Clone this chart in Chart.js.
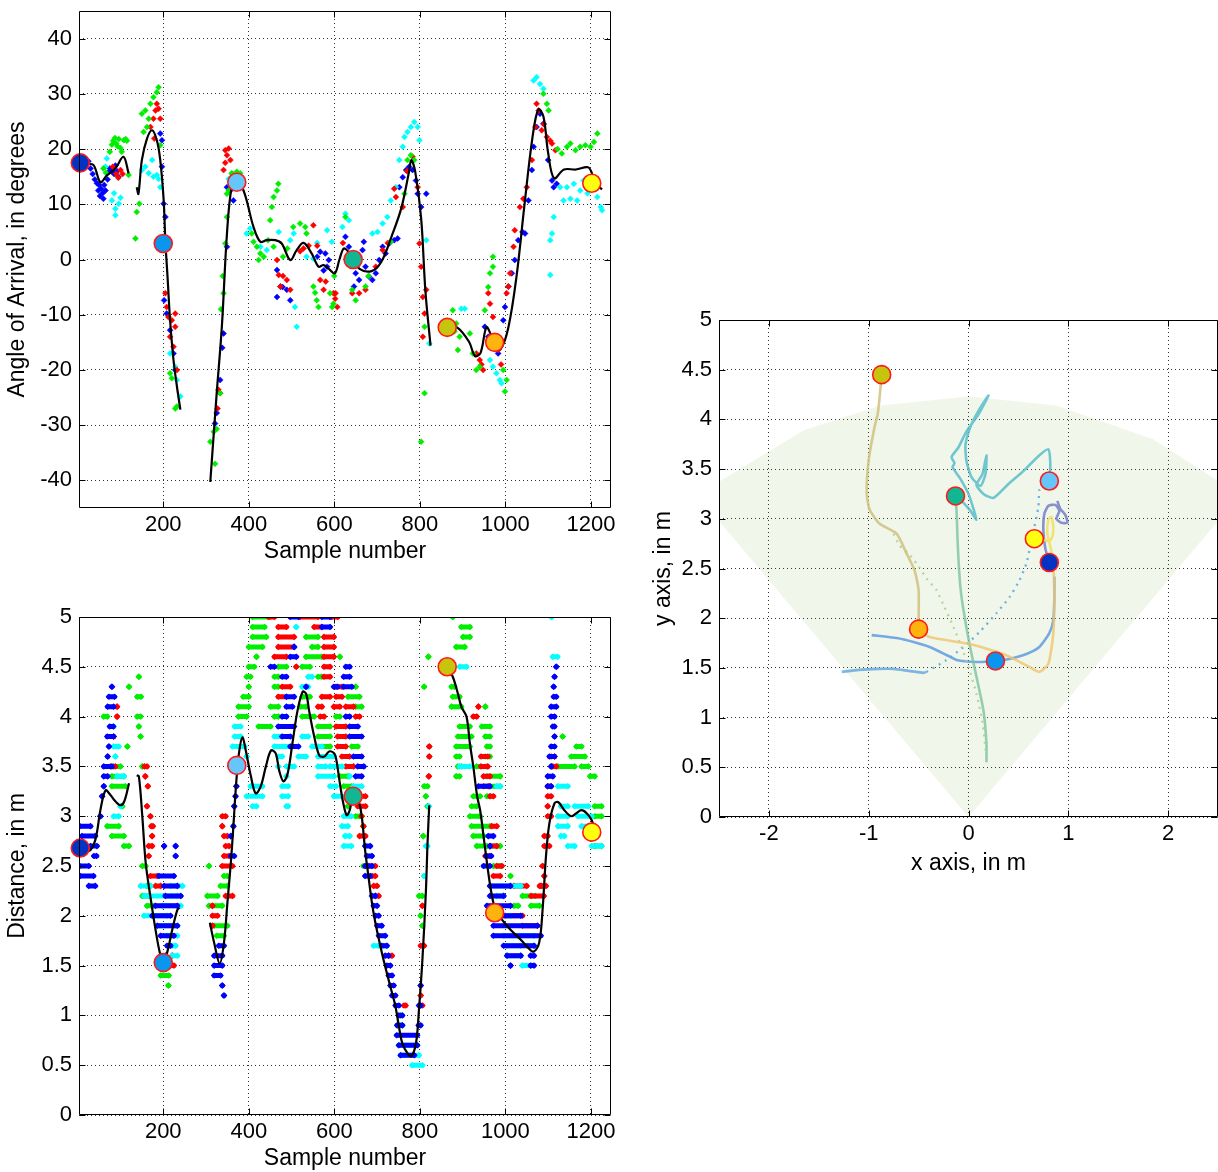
<!DOCTYPE html>
<html>
<head>
<meta charset="utf-8">
<script src="https://cdn.jsdelivr.net/npm/chart.js@4.4.1/dist/chart.umd.min.js"></script>
<style>
  html, body { margin: 0; padding: 0; background: #fff; overflow: hidden; }
  body { width: 1218px; height: 1172px; position: relative; }
  canvas { position: absolute; }
</style>
</head>
<body>
<canvas id="ch-aoa" width="622" height="569" style="left:0;top:0"></canvas>
<canvas id="ch-dist" width="622" height="572" style="left:0;top:600px"></canvas>
<canvas id="ch-xy" width="578" height="581" style="left:640px;top:300px"></canvas>
<script>
// ---- ticks ----
const sampleTicks = [200, 400, 600, 800, 1000, 1200];
const aoaTicks = [-40, -30, -20, -10, 0, 10, 20, 30, 40];
const distTicks = [0, 0.5, 1, 1.5, 2, 2.5, 3, 3.5, 4, 4.5, 5];
const xyTicksX = [-2, -1, 0, 1, 2];

// ---- key points (big circles) ----
const markerColors = ['#0433c4', '#0a95ee', '#66c6fb', '#11b792', '#c6c40c', '#ffb30f', '#ffff10'];
const markerSample = [6, 200, 372, 644, 864, 975, 1202];
const markerAoa = [17.5, 2.9, 14.0, 0.0, -12.3, -15.0, 13.8];
const markerDist = [2.68, 1.53, 3.51, 3.2, 4.5, 2.03, 2.84];
const markerX = [0.81, 0.27, 0.81, -0.13, -0.87, -0.50, 0.66];
const markerY = [2.56, 1.57, 3.38, 3.23, 4.45, 1.89, 2.80];

// ---- angle of arrival, raw estimates per receiver ----
const aoaRed = [[82,16.8],[90,15.5],[95,14.8],[100,16.2],[105,15.5],
  [170,24],[177,25.5],[179,21.9],[182,27],[185,28.2],[189,27.3],[193,25.5],[205,-6.1],[208,-8.6],[212,-10.4],[216,-14],[220,-11],[224,-15.8],[228,-12.2],[228,-9.8],[232,-20],
  [327,-27],[329,-23.6],[333,-24.2],[341,16.2],[345,19.8],[345,17.5],[349,18.9],[353,20.1],[357,18],[362,15.5],
  [466,-0.1],[470,-2.8],[474,-4.9],[480,-3],[489,-3.7],[497,-5.5],[520,1.5],[528,2],[540,2.5],[551,6.2],[560,2.5],[567,-3.7],[575,-5.5],[580,-4],[598,-6.1],[602,-7.1],[603,-6.1],[607,-8.6],[620,3],[642,-6.1],[658,-6.1],[673,-5.5],[697,-1.3],[713,1.7],[725,3],[740,12.8],[744,11.3],[760,9.5],[770,16],[783,18.6],[795,13.1],[799,2.9],[803,-1.3],[807,-6.8],[815,-5.5],[811,-9.8],[807,-14],
  [932,-17],[940,-18.2],[944,-19],[948,-20],[960,-6.1],[964,-8],[971,-10.4],[983,-16.4],[990,-19],[1003,-6.1],[1007,-4.9],[1011,-2.5],[1019,2.3],[1022,5.3],[1034,9.5],[1042,11],[1050,13.1],[1062,18],[1070,24],[1073,28.2],[1078,27],[1085,23.4],[1090,24.5],[1097,22.2],[1105,21.5],[1109,21],[1117,19.8]];
const aoaGreen = [[60,16.5],[66,15.7],[75,19.5],[80,20.8],[83,21.5],[87,22],[90,21],[93,20.5],[96,21.8],[100,20.2],[103,19.5],[108,21.6],[112,21.8],[115,21.5],[119,15.3],
  [135,3.8],[138,8.6],[144,10.1],[150,26.4],[154,23.1],[158,27],[162,24],[166,25.5],[170,28.2],[177,29.4],[185,30.3],[189,31.2],[193,20.7],[216,-20.6],[220,-21.5],[228,-27],[232,-26.6],
  [310,-33],[318,-31.2],[321,-37],[325,-30.7],[333,-24.2],[335,-9],[339,-3],[341,-6.1],[345,2.9],[349,7.7],[349,11.9],[353,12.5],[360,15.6],[372,15.9],[380,15.6],
  [407,4.7],[411,3.2],[419,2.3],[423,-0.1],[427,1.1],[435,0.5],[445,3.5],[450,7.1],[454,9.5],[458,11.3],[458,2.3],[466,12.5],[469,13.7],[480,0.5],[490,2],[504,5.9],[520,6.5],[532,5.9],[535,4.7],[551,-4.9],[555,-6],[559,-7.4],[563,-8.6],[590,-6.1],[595,-8.6],[598,-8],[600,-3],[626,7.7],[642,-5.5],[650,-7.4],[673,-4.9],[680,-3],[732,3.2],[764,11.9],[771,18],[779,18.9],[787,18],[811,-12.2],[811,-24.2],[803,-33],
  [877,-9.2],[881,-13],[885,-11.6],[889,-16.4],[893,-14],[917,-13.4],[924,-17],[932,-20],[940,-19.4],[952,-9.2],[960,-5],[964,-2.5],[971,0.5],[971,-1.3],[995,-20],[999,-23.9],[1003,-21.8],[1089,30],[1097,28.2],[1101,27],[1122,20],[1132,19.2],[1144,20.4],[1152,21],[1164,19.8],[1175,20.4],[1187,20.7],[1199,20.4],[1207,21.3],[1215,22.8]];
const aoaBlue = [[15,17.5],[25,17.8],[30,16.5],[35,15.5],[40,14.5],[45,13.8],[48,12.5],[50,13.5],[52,11.5],[55,12.8],[58,12],[60,11],[62,13.5],[65,12.5],[70,14.5],[72,15.8],[75,16.5],[80,16],[85,15.5],[88,17],[92,16],[95,15],
  [193,22.8],[197,21.6],[197,16.8],[201,10.1],[205,7.7],[202,-7.4],[208,-9.8],[216,-12.8],[224,-17],[228,-20],
  [321,-29.7],[325,-27.8],[333,-21.8],[338,-16],[341,-13.4],[349,2.3],[349,13.1],[357,12.5],[357,14.3],[364,10.7],
  [466,-1.9],[466,-6.8],[474,-4.9],[479,-5],[489,-5.5],[497,-7.4],[560,0.5],[567,1.4],[575,-2],[579,1.1],[583,-1.3],[587,-0.1],[626,4.1],[634,2.3],[642,-0.1],[646,-4.9],[650,-2.5],[658,-3.7],[666,1.7],[669,3.2],[673,-1.3],[681,-3.1],[689,-3.7],[697,-2.5],[705,-0.1],[713,2.3],[720,1.1],[728,2.9],[740,3.5],[748,3.8],[752,13.1],[760,14.9],[768,16.2],[775,16.8],[783,16.2],[791,14.3],[795,11.9],[803,9.5],[815,11.9],
  [952,-12.2],[960,-14],[971,-15.8],[983,-17],[995,-11],[999,-8.6],[1007,-4.9],[1015,-2.5],[1022,-0.1],[1030,3.5],[1040,5],[1046,4.7],[1054,10.7],[1062,16.2],[1066,20.4],[1073,24],[1081,26.4],[1089,24.6],[1100,18],[1109,14.3],[1113,13.1],[1120,13.7]];
const aoaCyan = [[65,16.8],[68,18.3],[80,10.7],[85,12],[88,9.2],[88,8],[96,10.1],[100,11.2],
  [150,16.2],[158,16.8],[166,15.6],[174,18],[177,15],[185,15.3],[189,14.6],[193,13.1],[216,-17],[228,-19.4],[232,-21.8],[240,-24.8],
  [353,14.6],[364,13.7],
  [395,4.7],[403,5.6],[427,2.3],[442,1.7],[470,5],[497,3.5],[505,4.7],[508,-8.6],[512,-12.2],[535,0.5],[551,0.2],[560,3],[583,5.3],[594,3.2],[619,5.9],[626,8.3],[634,7.1],[689,4.7],[701,5],[713,6.5],[724,7.7],[732,10.7],[744,13.1],[752,18],[760,20.4],[764,22.2],[771,23.1],[779,24],[787,24.9],[795,24],[799,21.6],[815,3.5],[822,-15.2],
  [897,-8.9],[905,-8.9],[964,-18.2],[971,-19.4],[979,-20.6],[987,-21.8],[991,-22.4],[1066,32.4],[1073,33],[1081,31.8],[1089,30.9],[1105,3.5],[1109,4.7],[1113,7.7],[1105,-2.8],[1128,13.1],[1136,10.7],[1144,13.1],[1152,11],[1160,13.7],[1168,10.7],[1175,12.5],[1183,14.3],[1192,12],[1215,11.3],[1223,9.5],[1226,8.9]];

// smoothed angle, null = gap
const aoaSmooth = [[4,17.5],[20,17.3],[37,17.1],[53,14.0],[68,15.2],[88,16.5],[107,18.6],[119,15.6], null,
  [138,13.1],[142,11.9],[150,18],[162,21.9],[174,23.4],[185,21.6],[193,18],[201,10.7],[205,3.2],[210,-3.1],[216,-11],[224,-18.2],[232,-23],[240,-27.2], null,
  [310,-40.3],[325,-24.2],[337,-12.2],[349,4.7],[360,13.1],[371,14.0],[384,13.1],[395,10.7],[411,5.9],[427,3.2],[442,3.5],[462,3.5],[477,2.9],[497,-0.1],[512,1.7],[528,3.0],[547,1.1],[563,-1.3],[575,-1.0],[586,-1.6],[601,-2.5],[612,0],[622,2.0],[632,1.5],[645,0.1],[659,-1.7],[687,-2.1],[710,-0.4],[734,4.2],[757,9.4],[775,16],[780,18],[789,16],[803,7.5],[813,-5.7],[825,-15.6], null,
  [864,-12.3],[887,-12.3],[915,-14.9],[929,-17.5],[942,-16.9],[956,-12.3],[970,-14.2],[980,-15],[989,-16.2],[1007,-12.3],[1026,-3.1],[1045,10.1],[1063,21.9],[1077,27.2],[1089,25.9],[1100,19.3],[1114,14.7],[1137,16.3],[1165,16.3],[1193,16.7],[1202,15.7],[1207,14],[1226,12.7]];

// ---- distance, raw estimates as rows: [from sample, to sample, metres] ----
const distBlue = [[5,30,2.9],[10,41,2.8],[30,45,2.7],[38,44,2.6],[5,26,2.5],[6,37,2.4],[26,41,2.3],[53,53,3.0],[57,57,3.2],[61,61,3.3],[61,70,3.4],[61,80,3.5],[70,70,3.6],[73,73,3.7],[69,84,3.8],[75,83,3.9],[70,84,4.1],[73,86,4.2],[80,80,4.3],
  [202,202,2.7],[229,229,2.7],[229,229,2.6],[190,225,2.4],[202,233,2.3],[205,241,2.2],[182,233,2.1],[174,217,2.0],[186,233,1.9],[194,225,1.8],[209,217,1.7],[194,205,1.6],
  [371,371,3.3],[369,369,3.2],[366,366,3.1],[364,364,2.9],[358,358,2.8],[358,366,2.6],[330,342,1.7],[319,338,1.6],[319,338,1.5],[319,334,1.4],[338,338,1.3],[342,342,1.2],
  [497,516,5.0],[571,590,5.0],[571,590,4.9],[506,506,4.7],[497,511,4.6],[451,460,4.5],[627,636,4.5],[478,488,4.4],[622,636,4.4],[534,534,4.3],[599,608,4.3],[622,641,4.3],[488,506,4.2],[488,502,4.1],[478,488,4.0],[627,636,4.0],[469,506,3.9],[636,655,3.9],[478,497,3.8],[636,664,3.8],[497,516,3.7],[645,664,3.6],[655,669,3.5],[650,664,3.4],
  [672,684,2.7],[676,688,2.6],[672,688,2.5],[672,684,2.4],[688,696,2.2],[692,700,2.1],[696,704,2.0],[700,711,1.9],[704,719,1.8],[711,723,1.7],[719,727,1.6],[723,731,1.5],[727,735,1.4],[731,739,1.3],[735,743,1.2],[743,751,1.1],[751,759,1.0],[747,759,0.9],[746,794,0.8],[751,794,0.7],[755,787,0.6],[798,802,1.1],[797,802,0.9],[802,802,1.3],
  [937,964,3.3],[960,972,2.8],[964,964,2.7],[955,967,2.6],[949,964,2.5],[964,1012,2.3],[964,996,2.2],[957,1012,2.1],[964,1036,2.0],[972,1075,1.9],[972,1083,1.8],[996,1067,1.7],[1004,1036,1.6],[1059,1067,1.6],[1012,1012,1.5],[1059,1067,1.5],
  [1119,1119,4.5],[1115,1115,4.4],[1113,1113,4.3],[1113,1119,4.2],[1107,1119,4.1],[1107,1115,4.0],[1111,1115,3.9],[1115,1115,3.8],[1107,1115,3.7],[1103,1115,3.6],[1107,1107,3.5],[1099,1111,3.4],[1099,1107,3.3]];
const distRed = [[92,92,4.1],[92,92,4.0],[84,84,3.8],[77,88,3.5],[156,162,3.5],[158,158,3.4],[164,164,3.3],[162,162,3.1],[170,170,3.0],[172,176,2.9],[174,174,2.8],[166,174,2.7],[166,166,2.6],[170,186,2.4],[182,194,2.3],[217,225,1.5],[221,221,1.6],
  [338,346,3.0],[338,338,2.9],[342,350,2.8],[346,354,2.7],[342,354,2.6],[338,362,2.5],[346,362,2.2],[315,315,2.1],[315,327,2.0],[315,315,1.9],
  [446,460,5.0],[520,562,5.0],[594,608,5.0],[469,488,4.9],[553,571,4.9],[469,506,4.8],[576,599,4.8],[469,506,4.7],[576,599,4.7],[460,488,4.6],[576,599,4.6],[511,511,4.5],[576,590,4.5],[576,590,4.4],[478,497,4.3],[604,618,4.3],[469,488,4.2],[571,590,4.2],[604,618,4.2],[562,571,4.1],[599,613,4.1],[627,645,4.1],[567,576,4.0],[650,659,4.0],[604,627,3.9],[608,627,3.8],[608,627,3.7],[618,636,3.6],[627,645,3.5],[655,673,3.2],[655,673,3.1],[659,673,2.8],
  [664,664,3.0],[668,668,2.9],[680,696,2.5],[688,696,2.4],[692,700,2.3],[696,704,2.2],[727,735,1.6],[763,767,1.1],
  [822,822,3.7],[822,822,3.6],[821,821,3.4],[806,806,2.1],[802,810,1.7],[802,802,1.2],[802,806,1.1],
  [937,937,4.1],[925,933,4.0],[943,959,3.6],[943,959,3.5],[949,964,3.4],[949,960,3.3],[964,972,3.2],[968,980,2.9],[964,980,2.7],[953,964,2.6],[980,992,2.5],[972,988,2.4],[1020,1050,2.3],[1060,1090,2.2],[1000,1040,2.0],[1040,1075,1.9],[1080,1085,2.3],
  [1107,1115,3.6],[1111,1119,3.5],[1099,1107,3.3],[1099,1107,3.2],[1099,1099,3.1],[1099,1107,3.0],[1091,1099,2.8],[1091,1103,2.7],[1087,1087,2.5],[1091,1091,2.4],[1083,1095,2.3]];
const distGreen = [[143,143,4.4],[120,120,4.3],[139,148,4.2],[61,69,4.0],[139,147,4.0],[143,143,3.9],[147,147,3.8],[116,116,3.7],[84,100,3.5],[151,151,3.5],[80,108,3.4],[80,112,3.3],[104,104,3.1],[69,96,2.9],[80,108,2.8],[108,120,2.7],
  [151,159,2.5],[162,170,2.3],[151,166,2.2],[162,178,2.1],[205,215,1.5],[194,213,1.4],[212,212,1.3],
  [307,307,2.5],[342,350,2.4],[334,350,2.3],[303,327,2.2],[307,338,2.1],[319,350,1.9],[325,342,1.8],
  [409,450,5.0],[409,437,4.9],[409,441,4.8],[534,562,4.8],[400,432,4.7],[548,562,4.7],[418,418,4.6],[534,571,4.6],[613,613,4.6],[400,413,4.5],[469,488,4.5],[525,543,4.5],[395,404,4.4],[460,469,4.4],[562,571,4.4],[400,400,4.3],[460,469,4.3],[650,650,4.3],[387,400,4.2],[525,543,4.2],[632,659,4.2],[376,400,4.1],[451,469,4.1],[520,534,4.1],[650,664,4.1],[376,395,4.0],[460,469,4.0],[525,553,4.0],[604,613,4.0],[423,451,3.9],[562,590,3.9],[562,590,3.8],[562,590,3.7],[641,655,3.7],[613,632,3.4],[622,641,3.3],[627,627,3.2],[632,632,3.1],[650,659,3.0],
  [668,668,2.9],[668,680,2.5],[747,759,0.9],[755,755,1.0],
  [810,818,3.3],[814,814,3.2],[818,818,3.1],[808,808,2.8],[798,806,2.2],[802,802,2.0],[806,806,1.9],[820,820,4.6],[810,810,4.3],
  [877,877,5.0],[897,917,4.9],[901,917,4.8],[885,905,4.7],[874,881,4.3],[877,893,4.2],[874,897,4.1],[953,953,4.1],[893,917,3.9],[945,964,3.9],[889,921,3.8],[953,964,3.8],[885,917,3.7],[957,964,3.7],[885,893,3.6],[953,964,3.6],[889,897,3.5],[933,957,3.5],[885,893,3.4],[957,988,3.4],[964,988,3.3],[925,941,3.2],[957,964,3.2],[921,933,3.1],[917,941,3.0],[921,964,2.9],[925,949,2.8],[933,957,2.7],[964,988,2.7],[972,988,2.5],
  [1012,1012,2.4],[1040,1070,2.2],[1020,1030,2.1],[1060,1080,2.1],
  [1134,1134,3.8],[1166,1178,3.7],[1154,1186,3.6],[1123,1162,3.5],[1178,1194,3.5],[1198,1209,3.4],[1209,1225,3.1],[1209,1225,3.0],[1209,1225,2.7]];
const distCyan = [[84,84,3.9],[84,96,3.7],[88,88,3.6],[92,108,3.4],[100,100,3.1],[84,96,3.0],
  [147,170,2.3],[217,245,2.3],[155,233,2.2],[198,241,2.1],[155,209,2.0],[186,233,1.9],[209,233,1.8],[221,229,1.7],[221,233,1.6],
  [511,511,4.9],[539,548,4.4],[525,539,4.3],[367,381,3.9],[367,381,3.8],[460,478,3.8],[525,539,3.8],[362,390,3.7],[460,497,3.7],[548,571,3.7],[395,395,3.6],[469,478,3.6],[516,534,3.6],[562,599,3.6],[469,469,3.5],[488,506,3.5],[562,580,3.5],[590,618,3.5],[488,488,3.4],[562,599,3.4],[636,636,3.4],[404,432,3.3],[478,492,3.3],[590,604,3.3],[645,664,3.3],[395,432,3.2],[478,492,3.2],[599,618,3.2],[409,418,3.1],[488,492,3.1],[622,640,3.0],[618,632,2.9],[622,640,2.7],
  [625,636,2.8],[692,704,1.7],[715,723,1.7],[751,794,0.7],[755,798,0.6],[782,806,0.5],
  [821,821,3.1],[814,818,2.7],[810,810,2.4],
  [893,909,4.5],[893,917,3.5],[980,988,3.3],[964,1036,2.3],[980,996,2.2],[964,1012,2.0],[996,1067,1.8],[1004,1036,1.7],[1051,1067,1.7],[1004,1036,1.6],[1040,1060,1.5],
  [1108,1108,5.0],[1111,1122,4.6],[1123,1146,3.3],[1130,1146,3.1],[1162,1194,3.1],[1123,1146,3.0],[1170,1202,3.0],[1123,1146,2.9],[1178,1194,2.9],[1130,1138,2.8],[1146,1162,2.7],[1202,1225,2.7]];

const distSmooth = [[6,2.69],[26,2.65],[41,2.76],[53,3.06],[65,3.26],[77,3.21],[88,3.15],[100,3.11],[109,3.15],[120,3.33], null,
  [138,3.41],[143,3.40],[151,3.0],[159,2.53],[170,2.19],[182,1.86],[192,1.63],[200,1.54],[209,1.63],[221,1.86],[233,2.06],[238,2.08], null,
  [309,1.93],[319,1.73],[332,1.52],[342,1.73],[350,2.13],[358,2.53],[364,2.9],[370,3.3],[377,3.63],[385,3.79],[393,3.66],[405,3.4],[416,3.23],[428,3.3],[440,3.5],[452,3.66],[463,3.63],[471,3.46],[481,3.35],[491,3.43],[502,3.73],[514,4.06],[526,4.25],[534,4.23],[541,4.06],[553,3.8],[565,3.61],[577,3.6],[588,3.65],[600,3.63],[605,3.56],[613,3.33],[621,3.13],[629,3.01],[636,3.06],[644,3.21],[656,3.16],[664,3.0],[672,2.66],[680,2.39],[688,2.13],[696,1.93],[708,1.69],[719,1.49],[731,1.29],[743,1.09],[751,0.89],[759,0.72],[771,0.62],[780,0.59],[791,0.72],[798,1.06],[806,1.56],[814,2.23],[818,2.73],[822,3.11], null,
  [864,4.5],[877,4.4],[889,4.23],[897,4.1],[909,4.0],[917,3.73],[925,3.5],[934,3.2],[941,3.06],[949,2.8],[957,2.53],[965,2.29],[972,2.13],[979,2.04],[996,1.94],[1012,1.86],[1036,1.76],[1051,1.69],[1066,1.64],[1079,1.73],[1087,2.06],[1095,2.6],[1103,2.93],[1115,3.13],[1124,3.14],[1138,3.06],[1154,3.0],[1166,3.03],[1178,3.06],[1190,3.03],[1202,2.96],[1208,2.86]];

// ---- room view ----
const fovX = [0, -2.72, -1.65, -0.88, 0, 0.88, 1.85, 2.72, 0];
const fovY = [0, 3.24, 3.89, 4.14, 4.23, 4.14, 3.80, 3.24, 0];
const trajPurple = [[0.81,2.56],[0.77,2.70],[0.75,2.88],[0.76,3.05],[0.80,3.13],[0.87,3.14],[0.91,3.08],[0.88,3.00],[0.93,2.96],[0.99,2.96],[0.97,3.04],[0.92,3.10],[0.89,3.18]];
const trajBlue = [[0.86,2.42],[0.86,2.2],[0.85,1.98],[0.81,1.85],[0.71,1.71],[0.58,1.64],[0.41,1.59],[0.27,1.57],[0.08,1.56],[-0.12,1.58],[-0.22,1.63],[-0.39,1.71],[-0.55,1.76],[-0.72,1.80],[-0.97,1.83]];
const trajLow = [[-1.27,1.46],[-1.1,1.48],[-0.9,1.49],[-0.75,1.49],[-0.6,1.47],[-0.45,1.45],[-0.42,1.46]];
const trajRise = [[-0.42,1.46],[-0.22,1.58],[-0.05,1.71],[0.11,1.86],[0.28,2.05],[0.41,2.21],[0.51,2.38],[0.58,2.55],[0.61,2.68],[0.66,2.92],[0.70,3.12],[0.71,3.29],[0.73,3.32]];
const trajCyan = [[0.81,3.38],[0.82,3.55],[0.80,3.70],[0.70,3.63],[0.55,3.48],[0.40,3.35],[0.25,3.21],[0.15,3.25],[0.08,3.34],[0.14,3.45],[0.18,3.64],[0.17,3.45],[0.12,3.33],[0.03,3.42],[-0.02,3.58],[-0.03,3.75],[0.03,3.95],[0.12,4.12],[0.20,4.24],[0.10,4.05],[-0.02,3.88],[-0.10,3.72],[-0.17,3.62],[-0.14,3.56],[-0.16,3.52],[-0.08,3.4],[0.0,3.25],[0.05,3.1],[0.08,2.99],[0.02,3.08],[-0.06,3.17],[-0.13,3.23]];
const trajGreen = [[-0.13,3.23],[-0.12,3.09],[-0.11,2.8],[-0.10,2.58],[-0.08,2.3],[-0.05,2.08],[0.01,1.74],[0.08,1.41],[0.15,1.07],[0.18,0.74],[0.18,0.55]];
const trajBack = [[0.18,0.6],[0.14,0.95],[0.08,1.24],[0.0,1.51],[-0.07,1.71],[-0.15,1.91],[-0.24,2.11],[-0.32,2.28],[-0.42,2.40],[-0.52,2.55],[-0.60,2.65],[-0.69,2.73],[-0.77,2.89]];
const trajOlive = [[-0.87,4.45],[-0.89,4.23],[-0.91,4.05],[-0.94,3.93],[-1.0,3.59],[-1.02,3.26],[-0.99,3.09],[-0.89,2.95],[-0.72,2.85],[-0.62,2.65],[-0.54,2.48],[-0.50,2.28],[-0.50,1.95],[-0.50,1.89]];
const trajOrange = [[-0.50,1.89],[-0.39,1.81],[0.01,1.74],[0.35,1.64],[0.61,1.51],[0.71,1.46],[0.80,1.54],[0.85,1.85],[0.86,2.25],[0.85,2.52],[0.84,2.62]];
const trajYellow = [[0.84,2.62],[0.82,2.72],[0.79,2.85],[0.80,2.99],[0.83,3.02],[0.85,2.92],[0.84,2.82],[0.81,2.77],[0.75,2.79],[0.66,2.80]];

const FONT = 'Liberation Sans, Arial, Helvetica, sans-serif';
Chart.defaults.font.family = FONT;
Chart.defaults.color = '#000';
Chart.defaults.animation = false;

function pts(arr) {
  let lastX = 0;
  return arr.map(p => {
    if (!p) return { x: lastX, y: null };
    lastX = p[0];
    return { x: p[0], y: p[1] };
  });
}

function runPts(runs) {
  const out = [];
  runs.forEach(r => { out.push({ x: r[0], y: r[2] }, { x: r[1], y: r[2] }, { x: r[1], y: null }); });
  return out;
}

function zipPts(xs, ys) { return xs.map((x, i) => ({ x, y: ys[i] })); }

// matlab-like box with inner tick marks
const boxPlugin = {
  id: 'box',
  afterDatasetsDraw(chart) {
    const { ctx, chartArea: a, scales } = chart;
    const L = Math.round(a.left) + 0.5, R = Math.round(a.right) - 0.5;
    const T = Math.round(a.top) + 0.5, B = Math.round(a.bottom) - 0.5;
    const len = 6;
    ctx.save();
    ctx.strokeStyle = '#000';
    ctx.lineWidth = 1;
    ctx.beginPath();
    ctx.rect(L, T, R - L, B - T);
    scales.x.ticks.forEach(t => {
      const px = Math.round(scales.x.getPixelForValue(t.value)) + 0.5;
      ctx.moveTo(px, B); ctx.lineTo(px, B - len);
      ctx.moveTo(px, T); ctx.lineTo(px, T + len);
    });
    scales.y.ticks.forEach(t => {
      const py = Math.round(scales.y.getPixelForValue(t.value)) + 0.5;
      ctx.moveTo(L, py); ctx.lineTo(L + len, py);
      ctx.moveTo(R, py); ctx.lineTo(R - len, py);
    });
    ctx.stroke();
    ctx.restore();
  }
};

function axis(min, max, tickVals, title, fit, horizontal, titlePad) {
  return {
    type: 'linear', min, max,
    afterBuildTicks: s => { s.ticks = tickVals.map(v => ({ value: v })); },
    afterFit: s => {
      if (horizontal) s.height = fit; else s.width = fit;
      s.paddingTop = 0; s.paddingBottom = 0; s.paddingLeft = 0; s.paddingRight = 0;
    },
    grid: { color: '#333', lineWidth: 1, drawTicks: false },
    border: { display: false, dash: [1, 3] },
    ticks: { font: { size: 22 }, color: '#000', padding: horizontal ? 4 : 7, autoSkip: false, maxRotation: 0, callback: v => String(v) },
    title: { display: true, text: title, font: { size: 23 }, color: '#000', padding: titlePad },
  };
}

function dots(data, color) {
  return { data: pts(data), showLine: false, pointStyle: 'rectRot', pointRadius: 3, pointBackgroundColor: color, pointBorderColor: color, pointBorderWidth: 0.5, order: 3 };
}

function rows(data, color) {
  return { data: runPts(data), showLine: true, spanGaps: false, borderColor: color, borderWidth: 5, borderCapStyle: 'round', pointStyle: 'rectRot', pointRadius: 3.3, pointBackgroundColor: color, pointBorderColor: color, pointBorderWidth: 0, order: 3 };
}

function smooth(data) {
  return { data: pts(data), showLine: true, spanGaps: false, tension: 0.35, borderColor: '#000', borderWidth: 2.2, pointRadius: 0, order: 1 };
}

function markers(xs, ys) {
  return { data: zipPts(xs, ys), showLine: false, pointRadius: 9, pointBackgroundColor: markerColors, pointBorderColor: '#ff1a1a', pointBorderWidth: 1.6, clip: false, order: 0 };
}

function path(data, color, dashed) {
  return { data: pts(data), showLine: true, tension: 0.2, borderColor: color, borderWidth: dashed ? 2.3 : 2.6, borderDash: dashed ? [2, 5] : [], pointRadius: 0, order: 2 };
}

const baseOpts = {
  responsive: false,
  devicePixelRatio: 1,
  plugins: { legend: { display: false }, tooltip: { enabled: false } },
  events: [],
};

new Chart(document.getElementById('ch-aoa'), {
  type: 'scatter',
  data: { datasets: [
    markers(markerSample, markerAoa),
    smooth(aoaSmooth),
    dots(aoaGreen, '#00ee00'),
    dots(aoaRed, '#ff0000'),
    dots(aoaCyan, '#00ffff'),
    dots(aoaBlue, '#0000ff'),
  ] },
  options: { ...baseOpts,
    layout: { autoPadding: false, padding: { top: 11, right: 11, left: 0, bottom: 0 } },
    scales: {
      x: axis(3, 1247, sampleTicks, 'Sample number', 61, true, { top: 0, bottom: 4 }),
      y: axis(-45, 45, aoaTicks, 'Angle of Arrival, in degrees', 79, false, { top: 4, bottom: 0 }),
    },
  },
  plugins: [boxPlugin],
});

new Chart(document.getElementById('ch-dist'), {
  type: 'scatter',
  data: { datasets: [
    markers(markerSample, markerDist),
    smooth(distSmooth),
    rows(distBlue, '#0000ff'),
    rows(distCyan, '#00ffff'),
    rows(distRed, '#ff0000'),
    rows(distGreen, '#00ee00'),
  ] },
  options: { ...baseOpts,
    layout: { autoPadding: false, padding: { top: 17, right: 11, left: 0, bottom: 0 } },
    scales: {
      x: axis(3, 1247, sampleTicks, 'Sample number', 57, true, { top: 0, bottom: 0 }),
      y: axis(0, 5, distTicks, 'Distance, in m', 79, false, { top: 4, bottom: 0 }),
    },
  },
  plugins: [boxPlugin],
});

new Chart(document.getElementById('ch-xy'), {
  type: 'scatter',
  data: { datasets: [
    markers(markerX, markerY),
    path(trajYellow, 'rgba(240,222,90,0.8)', false),
    path(trajOrange, 'rgba(240,196,110,0.8)', false),
    path(trajOlive, 'rgba(205,190,120,0.8)', false),
    path(trajBack, 'rgba(175,205,140,0.85)', true),
    path(trajGreen, 'rgba(125,196,160,0.8)', false),
    path(trajCyan, 'rgba(80,186,200,0.8)', false),
    path(trajRise, 'rgba(95,170,225,0.9)', true),
    path(trajLow, 'rgba(95,165,225,0.8)', false),
    path(trajBlue, 'rgba(85,150,225,0.8)', false),
    path(trajPurple, 'rgba(110,120,200,0.8)', false),
    { data: zipPts(fovX, fovY), showLine: true, fill: 'shape', backgroundColor: 'rgba(105,165,35,0.1)', borderWidth: 0, borderColor: 'rgba(0,0,0,0)', pointRadius: 0, order: 9 },
  ] },
  options: { ...baseOpts,
    layout: { autoPadding: false, padding: { top: 20, right: 0, left: 0, bottom: 0 } },
    scales: {
      x: axis(-2.5, 2.5, xyTicksX, 'x axis, in m', 64, true, { top: 0, bottom: 4 }),
      y: axis(0, 5, distTicks, 'y axis, in m', 79, false, { top: 10, bottom: 0 }),
    },
  },
  plugins: [boxPlugin],
});
</script>
</body>
</html>
